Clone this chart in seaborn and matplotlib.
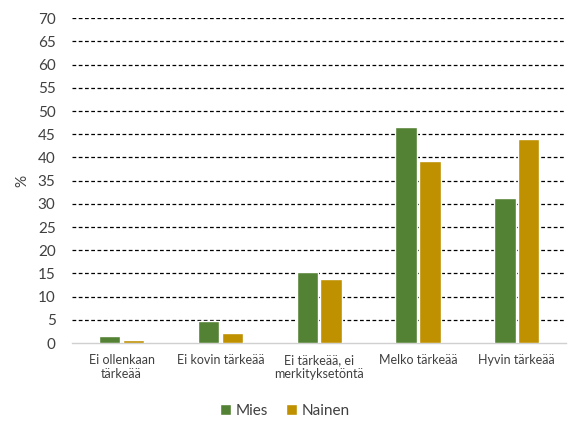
import matplotlib
matplotlib.use("Agg")
import matplotlib.pyplot as plt
import seaborn as sns
import pandas as pd

categories = ["Ei ollenkaan\ntärkeää", "Ei kovin tärkeää", "Ei tärkeää, ei\nmerkityksetöntä",
              "Melko tärkeää", "Hyvin tärkeää"]
mies = [1.5, 4.7, 15.3, 46.6, 31.3]
nainen = [0.7, 2.2, 13.8, 39.2, 43.9]
series_names = ["Mies", "Nainen"]
yticks = list(range(0, 75, 5))

df = pd.DataFrame({
    "cat": categories * 2,
    "val": mies + nainen,
    "sex": [series_names[0]] * 5 + [series_names[1]] * 5,
})

sns.set_theme(style="white")
plt.rcParams["font.family"] = ["Lato", "DejaVu Sans"]

fig = plt.figure(figsize=(5.69, 4.23), dpi=100)
ax = fig.add_axes([0.127, 0.189, 0.868, 0.768])

sns.barplot(data=df, x="cat", y="val", hue="sex", palette=["#548235", "#BF9000"],
            width=0.48, gap=0.1, ax=ax, saturation=1, legend=True, zorder=3)

ax.set_ylim(0, 70)
ax.set_yticks(yticks)
ax.set_yticklabels([str(t) for t in yticks], fontsize=11, color="#404040")
ax.tick_params(axis="x", labelsize=9, colors="#404040", length=0, pad=8)
ax.tick_params(axis="y", length=0, pad=12)
ax.set_xlim(-0.5, 4.5)
for t in yticks[1:]:
    ax.axhline(t, color="black", linestyle=(0, (3, 2)), linewidth=0.9, zorder=1)
for s in ["top", "right", "left"]:
    ax.spines[s].set_visible(False)
ax.spines["bottom"].set_color("#d0d0d0")
ax.spines["bottom"].set_linewidth(1)
ax.set_xlabel("")
ax.set_ylabel("%", fontsize=11, color="#404040", labelpad=6)

leg = ax.legend(loc="upper center", bbox_to_anchor=(0.43, -0.145), ncol=2, frameon=False,
                fontsize=11, handlelength=0.7, handleheight=0.7, columnspacing=1.2,
                handletextpad=0.3)
for t in leg.get_texts():
    t.set_color("#404040")

fig.savefig("out.png", dpi=100)
